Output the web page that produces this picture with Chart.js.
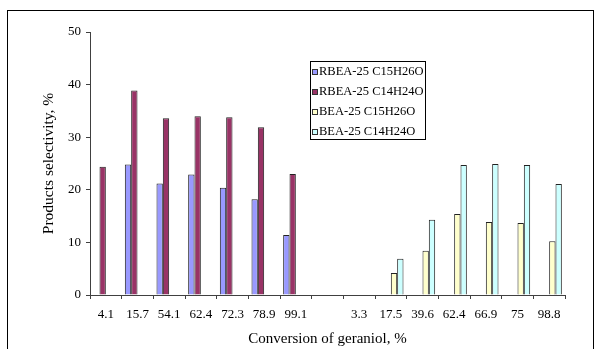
<!DOCTYPE html>
<html>
<head>
<meta charset="utf-8">
<title>Products selectivity</title>
<script src="https://cdn.jsdelivr.net/npm/chart.js@4"></script>
<style>
  html, body { margin: 0; padding: 0; background: #fff; }
  canvas { display: block; }
</style>
</head>
<body>
<canvas id="chart" width="601" height="349"></canvas>
<script>
// conversion of geraniol, % (blank slot separates the two catalysts)
var conversions = ['4.1', '15.7', '54.1', '62.4', '72.3', '78.9', '99.1', '',
                   '3.3', '17.5', '39.6', '62.4', '66.9', '75', '98.8'];

// selectivity, %
var rbeaC15 = [null, 24.8, 21.2, 22.9, 20.4, 18.2, 11.4, null,
               null, null, null, null, null, null, null];
var rbeaC14 = [24.4, 38.9, 33.6, 34.0, 33.8, 31.9, 23.0, null,
               null, null, null, null, null, null, null];
var beaC15  = [null, null, null, null, null, null, null, null,
               null, 4.2, 8.4, 15.4, 13.9, 13.7, 10.2];
var beaC14  = [null, null, null, null, null, null, null, null,
               null, 6.9, 14.3, 24.7, 24.9, 24.7, 21.1];

var seriesNames = ['RBEA-25 C15H26O', 'RBEA-25 C14H24O', 'BEA-25 C15H26O', 'BEA-25 C14H24O'];
var seriesColors = ['#9999ff', '#993366', '#ffffcc', '#ccffff'];
var yTicks = [0, 10, 20, 30, 40, 50];

var FONT = '"Liberation Serif", "Times New Roman", serif';
var AXIS = '#404040';

// frame round the whole figure + boxed legend inside the plot
var framePlugin = {
  id: 'frame',
  beforeDraw: function(chart){
    var ctx = chart.ctx;
    ctx.save();
    ctx.strokeStyle = '#000';
    ctx.lineWidth = 1;
    ctx.strokeRect(7.5, 10.5, 586, 400);
    ctx.restore();
  },
  afterDraw: function(chart){
    var ctx = chart.ctx;
    ctx.save();
    ctx.fillStyle = '#fff';
    ctx.fillRect(310.5, 61.5, 115, 78);
    ctx.strokeStyle = '#000';
    ctx.lineWidth = 1;
    ctx.strokeRect(310.5, 61.5, 115, 78);
    ctx.font = '12.5px ' + FONT;
    ctx.textBaseline = 'middle';
    ctx.textAlign = 'left';
    chart.data.datasets.forEach(function(ds, i){
      var y = 71 + i * 20;
      var top = Math.round(y - 2.5) + 0.5;
      ctx.fillStyle = ds.backgroundColor;
      ctx.fillRect(312.5, top, 5, 5);
      ctx.strokeStyle = '#333';
      ctx.strokeRect(312.5, top, 5, 5);
      ctx.fillStyle = '#000';
      ctx.fillText(ds.label, 319, y + 1);
    });
    ctx.restore();
  }
};

var datasets = [rbeaC15, rbeaC14, beaC15, beaC14].map(function(values, i){
  return {
    label: seriesNames[i],
    data: values,
    backgroundColor: seriesColors[i],
    borderColor: '#222',
    borderWidth: 1,
    borderSkipped: 'bottom',
    categoryPercentage: 0.8,
    barPercentage: 1.0
  };
});

new Chart(document.getElementById('chart').getContext('2d'), {
  type: 'bar',
  data: { labels: conversions, datasets: datasets },
  plugins: [framePlugin],
  options: {
    responsive: false,
    animation: false,
    layout: { padding: { left: 0, right: 36, top: 32, bottom: 0 } },
    plugins: {
      legend: { display: false },
      title: { display: false },
      tooltip: { enabled: false }
    },
    scales: {
      x: {
        afterFit: function(scale){ scale.height = 54; },
        grid: { display: true, drawOnChartArea: false, drawTicks: true, tickLength: 4, color: AXIS, offset: true },
        border: { display: true, color: AXIS },
        ticks: { color: '#000', padding: 8, maxRotation: 0, autoSkip: false, font: { family: FONT, size: 13 } },
        title: { display: true, text: 'Conversion of geraniol, %', color: '#000', padding: { top: 0, bottom: 1 }, font: { family: FONT, size: 15 } }
      },
      y: {
        min: 0,
        max: 50,
        afterFit: function(scale){ scale.width = 90; },
        afterBuildTicks: function(scale){ scale.ticks = yTicks.map(function(v){ return { value: v }; }); },
        grid: { display: true, drawOnChartArea: false, drawTicks: true, tickLength: 4, color: AXIS },
        border: { display: true, color: AXIS },
        ticks: { color: '#000', padding: 5, font: { family: FONT, size: 13 } },
        title: { display: true, text: 'Products selectivity, %', color: '#000', padding: { top: 40, bottom: 0 }, font: { family: FONT, size: 15.5 } }
      }
    }
  }
});
</script>
</body>
</html>
